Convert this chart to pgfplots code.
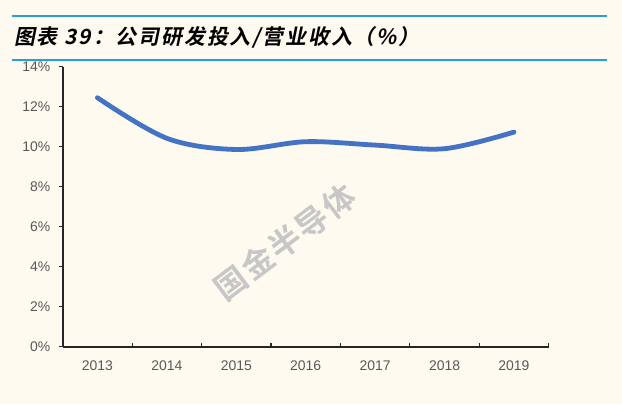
\documentclass[border=0pt]{standalone}
\usepackage{pgfplots}
\pgfplotsset{compat=1.18}
\usepackage{fontspec}
\setmainfont{Liberation Sans}
\newfontfamily\cjk{Noto Sans CJK SC}
\newfontfamily\wmfont[LetterSpace=6]{Noto Sans CJK SC Bold}
\newfontfamily\titlefont[FakeSlant=0.2, LetterSpace=9]{Noto Sans CJK SC Bold}
\definecolor{bgcream}{RGB}{254,250,240}
\definecolor{rulebl}{RGB}{40,158,212}
\definecolor{lineblue}{RGB}{68,114,196}
\definecolor{ticktxt}{RGB}{89,89,89}
\definecolor{axdark}{RGB}{38,38,38}

\begin{document}
\begin{tikzpicture}[x=1bp,y=1bp]
  \fill[bgcream] (0,0) rectangle (622,404);
  \useasboundingbox (0,0) rectangle (622,404);
  % title and rules
  \draw[rulebl, line width=2bp] (12,388) -- (607,388);
  \draw[rulebl, line width=2bp] (12,344.5) -- (607,344.5);
  \node[anchor=base west, inner sep=0pt, font=\titlefont\fontsize{21}{21}\selectfont]
    at (14,360) {图表 39：公司研发投入/营业收入（\%）};
  % watermark
  \node[rotate=37, text=black!22, font=\wmfont\fontsize{32}{32}\selectfont]
    at (285,162) {国金半导体};

  \begin{axis}[
    at={(62.7bp,57.3bp)}, anchor=south west,
    scale only axis,
    width=486bp, height=280bp,
    xmin=-0.5, xmax=6.5,
    ymin=0, ymax=14,
    axis x line*=bottom, axis y line*=left,
    axis line style={-, axdark, line width=1.6bp},
    xtick={-0.5,0.5,...,6.5},
    x tick label as interval,
    xticklabels={2013,2014,2015,2016,2017,2018,2019},
    ytick={0,2,...,14},
    yticklabels={0\%,2\%,4\%,6\%,8\%,10\%,12\%,14\%},
    tick align=outside,
    major tick length=4bp,
    tick style={axdark, line width=1.2bp},
    xtick style={yshift=4bp},
    ticklabel style={text=ticktxt, font=\fontsize{14}{16}\selectfont},
    xticklabel style={yshift=-7bp},
    yticklabel style={xshift=-5bp},
    clip=false,
  ]
    \addplot[lineblue, line width=4.8bp, smooth, tension=0.55, line cap=round] coordinates {
      (0, 12.45)
      (1, 10.42)
      (2, 9.86)
      (3, 10.25)
      (4, 10.08)
      (5, 9.90)
      (6, 10.73)
    };
  \end{axis}
\end{tikzpicture}
\end{document}
